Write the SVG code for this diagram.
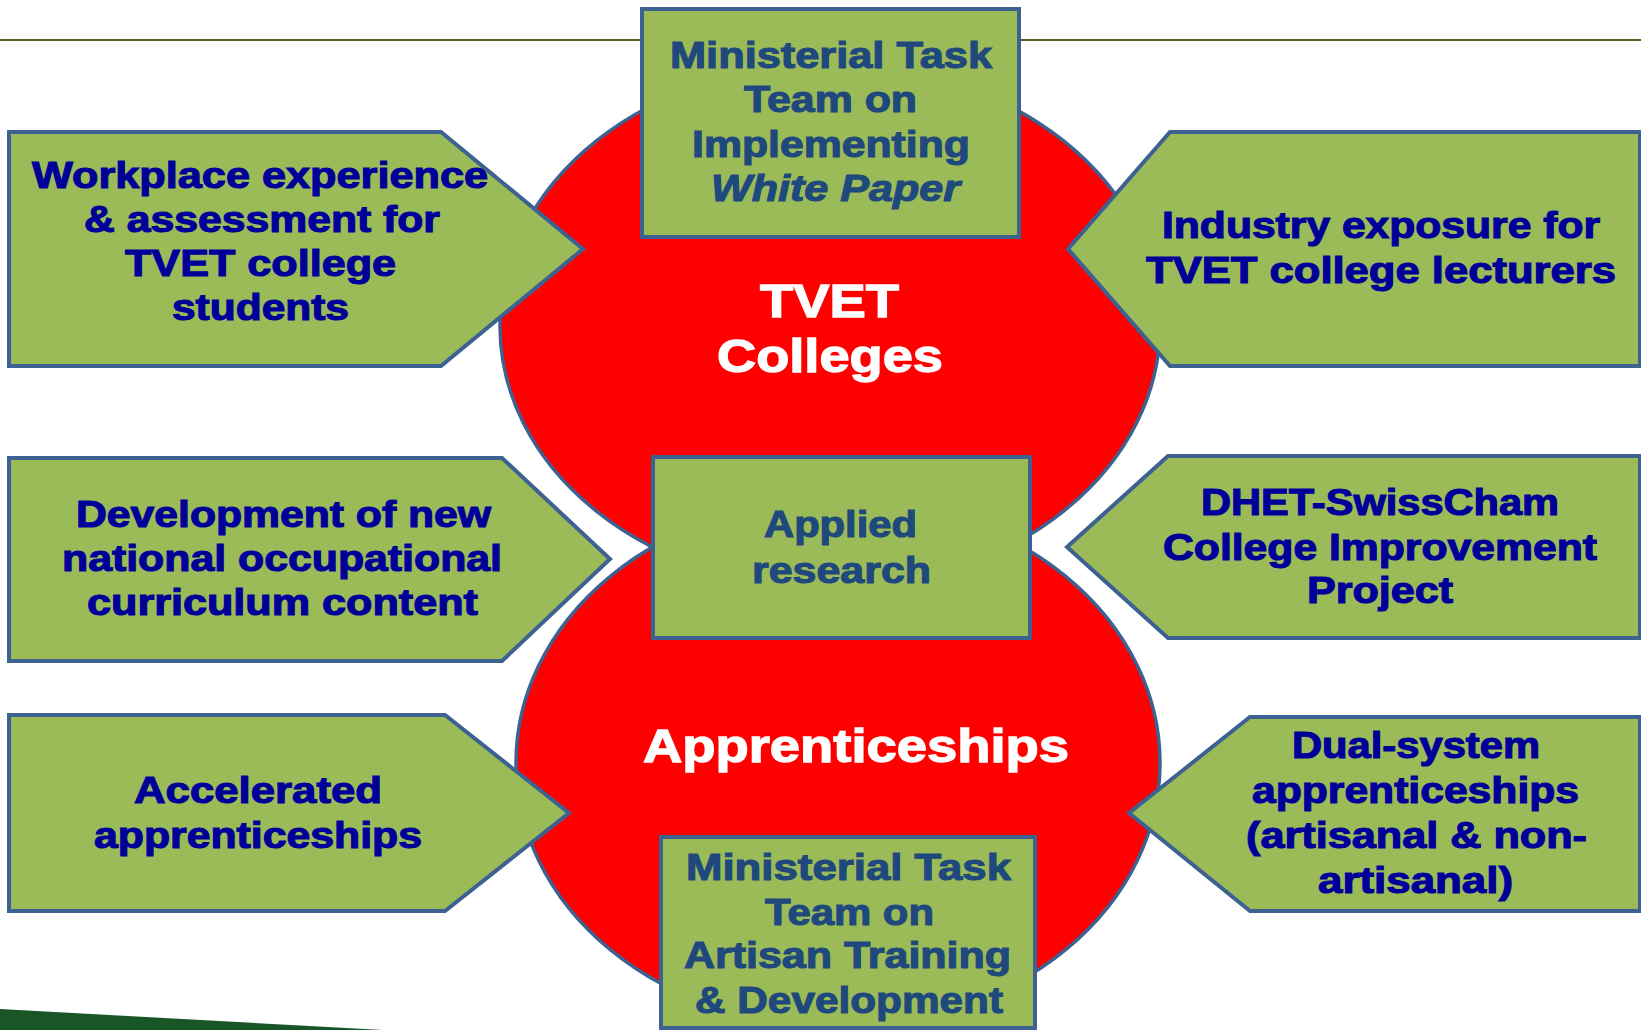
<svg xmlns="http://www.w3.org/2000/svg" width="1641" height="1030" viewBox="0 0 1641 1030">
<style>
.box{fill:#9BBB59;stroke:#3D6190;stroke-width:4;stroke-linejoin:miter}
.circ{fill:#FF0000;stroke:#3D6190;stroke-width:3.5}
.side{font-family:"Liberation Sans",Arial,sans-serif;font-weight:bold;font-size:36px;fill:#000099;stroke:#000099;stroke-width:1.1;text-anchor:middle}
.mid{font-family:"Liberation Sans",Arial,sans-serif;font-weight:bold;font-size:36px;fill:#1F497D;stroke:#1F497D;stroke-width:1.1;text-anchor:middle}
.big{font-family:"Liberation Sans",Arial,sans-serif;font-weight:bold;font-size:47px;fill:#FFFFFF;stroke:#FFFFFF;stroke-width:1.3;text-anchor:middle}
</style>
<rect x="0" y="0" width="1641" height="1030" fill="#FFFFFF"/>
<line x1="0" y1="40" x2="1641" y2="40" stroke="#4F6228" stroke-width="2"/>
<polygon points="0,1009 383,1030 0,1030" fill="#185628"/>

<g id="circle-tvet">
<ellipse class="circ" cx="830" cy="326" rx="330" ry="262"/>
</g>
<g id="circle-apprenticeships">
<ellipse class="circ" cx="838" cy="763" rx="322" ry="264"/>
</g>

<g id="node-workplace">
<polygon class="box" points="9,132 441,132 583,249 441,366 9,366"/>
<text class="side" x="260" y="188" textLength="456" lengthAdjust="spacingAndGlyphs">Workplace experience</text>
<text class="side" x="262" y="232" textLength="356" lengthAdjust="spacingAndGlyphs">&amp; assessment for</text>
<text class="side" x="260.5" y="276" textLength="271" lengthAdjust="spacingAndGlyphs">TVET college</text>
<text class="side" x="260.5" y="320" textLength="177" lengthAdjust="spacingAndGlyphs">students</text>
</g>

<g id="node-development">
<polygon class="box" points="9,458 502,458 610,559 502,661 9,661"/>
<text class="side" x="283.5" y="527" textLength="415" lengthAdjust="spacingAndGlyphs">Development of new</text>
<text class="side" x="282" y="571" textLength="440" lengthAdjust="spacingAndGlyphs">national occupational</text>
<text class="side" x="282.5" y="615" textLength="391" lengthAdjust="spacingAndGlyphs">curriculum content</text>
</g>

<g id="node-accelerated">
<polygon class="box" points="9,715 445,715 569,813 445,911 9,911"/>
<text class="side" x="258" y="803" textLength="248" lengthAdjust="spacingAndGlyphs">Accelerated</text>
<text class="side" x="258" y="848" textLength="328" lengthAdjust="spacingAndGlyphs">apprenticeships</text>
</g>

<g id="node-industry">
<polygon class="box" points="1640,132 1170,132 1068,249 1170,366 1640,366"/>
<text class="side" x="1381" y="238" textLength="438" lengthAdjust="spacingAndGlyphs">Industry exposure for</text>
<text class="side" x="1381" y="283" textLength="470" lengthAdjust="spacingAndGlyphs">TVET college lecturers</text>
</g>

<g id="node-dhet">
<polygon class="box" points="1640,456 1168,456 1067,547 1168,638 1640,638"/>
<text class="side" x="1380" y="515" textLength="358" lengthAdjust="spacingAndGlyphs">DHET-SwissCham</text>
<text class="side" x="1380" y="560" textLength="434" lengthAdjust="spacingAndGlyphs">College Improvement</text>
<text class="side" x="1380" y="603" textLength="146" lengthAdjust="spacingAndGlyphs">Project</text>
</g>

<g id="node-dual">
<polygon class="box" points="1640,717 1250,717 1129,813 1250,911 1640,911"/>
<text class="side" x="1416" y="758" textLength="248" lengthAdjust="spacingAndGlyphs">Dual-system</text>
<text class="side" x="1415.5" y="803" textLength="327" lengthAdjust="spacingAndGlyphs">apprenticeships</text>
<text class="side" x="1416.5" y="848" textLength="341" lengthAdjust="spacingAndGlyphs">(artisanal &amp; non-</text>
<text class="side" x="1415.5" y="893" textLength="195" lengthAdjust="spacingAndGlyphs">artisanal)</text>
</g>

<g id="label-tvet">
<text class="big" x="829.5" y="317" textLength="139" lengthAdjust="spacingAndGlyphs">TVET</text>
<text class="big" x="830" y="372" textLength="226" lengthAdjust="spacingAndGlyphs">Colleges</text>
</g>
<g id="label-apprenticeships">
<text class="big" x="856" y="762" textLength="426" lengthAdjust="spacingAndGlyphs">Apprenticeships</text>
</g>

<g id="node-mtt-white-paper">
<rect class="box" x="642" y="9" width="377" height="228"/>
<text class="mid" x="831" y="68" textLength="322" lengthAdjust="spacingAndGlyphs">Ministerial Task</text>
<text class="mid" x="830.5" y="112" textLength="173" lengthAdjust="spacingAndGlyphs">Team on</text>
<text class="mid" x="831" y="157" textLength="278" lengthAdjust="spacingAndGlyphs">Implementing</text>
<text class="mid" x="835.5" y="201" font-style="italic" textLength="249" lengthAdjust="spacingAndGlyphs">White Paper</text>
</g>

<g id="node-applied-research">
<rect class="box" x="653" y="457" width="377" height="181"/>
<text class="mid" x="840.5" y="537" textLength="153" lengthAdjust="spacingAndGlyphs">Applied</text>
<text class="mid" x="841.5" y="583" textLength="179" lengthAdjust="spacingAndGlyphs">research</text>
</g>

<g id="node-mtt-artisan">
<rect class="box" x="661" y="837" width="374" height="191"/>
<text class="mid" x="848.5" y="880" textLength="325" lengthAdjust="spacingAndGlyphs">Ministerial Task</text>
<text class="mid" x="849.5" y="925" textLength="169" lengthAdjust="spacingAndGlyphs">Team on</text>
<text class="mid" x="847.5" y="968" textLength="327" lengthAdjust="spacingAndGlyphs">Artisan Training</text>
<text class="mid" x="849" y="1013" textLength="308" lengthAdjust="spacingAndGlyphs">&amp; Development</text>
</g>
</svg>
